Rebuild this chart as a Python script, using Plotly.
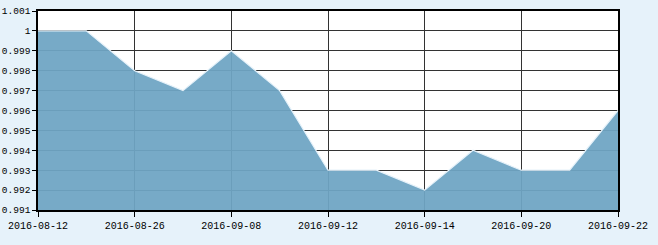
import plotly.graph_objects as go

dates = ["2016-08-12", "2016-08-19", "2016-08-26", "2016-09-02", "2016-09-08",
         "2016-09-09", "2016-09-12", "2016-09-13", "2016-09-14", "2016-09-19",
         "2016-09-20", "2016-09-21", "2016-09-22"]
values = [1.000, 1.000, 0.998, 0.997, 0.999, 0.997, 0.993, 0.993, 0.992, 0.994,
          0.993, 0.993, 0.996]
y_ticks = [0.991, 0.992, 0.993, 0.994, 0.995, 0.996, 0.997, 0.998, 0.999, 1.000, 1.001]
y_labels = ["0.991", "0.992", "0.993", "0.994", "0.995", "0.996", "0.997", "0.998",
            "0.999", "1", "1.001"]
x_label_idx = [0, 2, 4, 6, 8, 10, 12]

idx = list(range(len(dates)))
fig = go.Figure()
fig.add_trace(go.Scatter(
    x=idx, y=values, mode="lines", fill="tozeroy",
    fillcolor="rgba(110,165,195,0.94)",
    line=dict(color="rgba(230,242,250,1)", width=1.2),
    hoverinfo="skip",
))
fig.update_layout(
    width=658, height=245,
    margin=dict(l=38, r=40, t=11, b=35),
    paper_bgcolor="#E6F2FA", plot_bgcolor="#FFFFFF",
    showlegend=False,
    font=dict(family="Liberation Mono", size=10, color="#000"),
)
fig.update_xaxes(
    range=[0, 12], tickmode="array", tickvals=x_label_idx,
    ticktext=[dates[i] for i in x_label_idx], automargin=False,
    showgrid=True, gridcolor="#333333", gridwidth=1,
    showline=True, linecolor="#000", linewidth=1.5, mirror=True,
    ticks="outside", ticklen=5, tickcolor="#000", zeroline=False,
)
fig.update_yaxes(
    range=[0.991, 1.001], tickmode="array", tickvals=y_ticks, ticktext=y_labels,
    automargin=False, tickfont=dict(size=9.5),
    showgrid=True, gridcolor="#333333", gridwidth=1,
    showline=True, linecolor="#000", linewidth=1.5, mirror=True,
    ticks="outside", ticklen=4, tickcolor="#000", zeroline=False,
)
fig.write_html("out.html")
